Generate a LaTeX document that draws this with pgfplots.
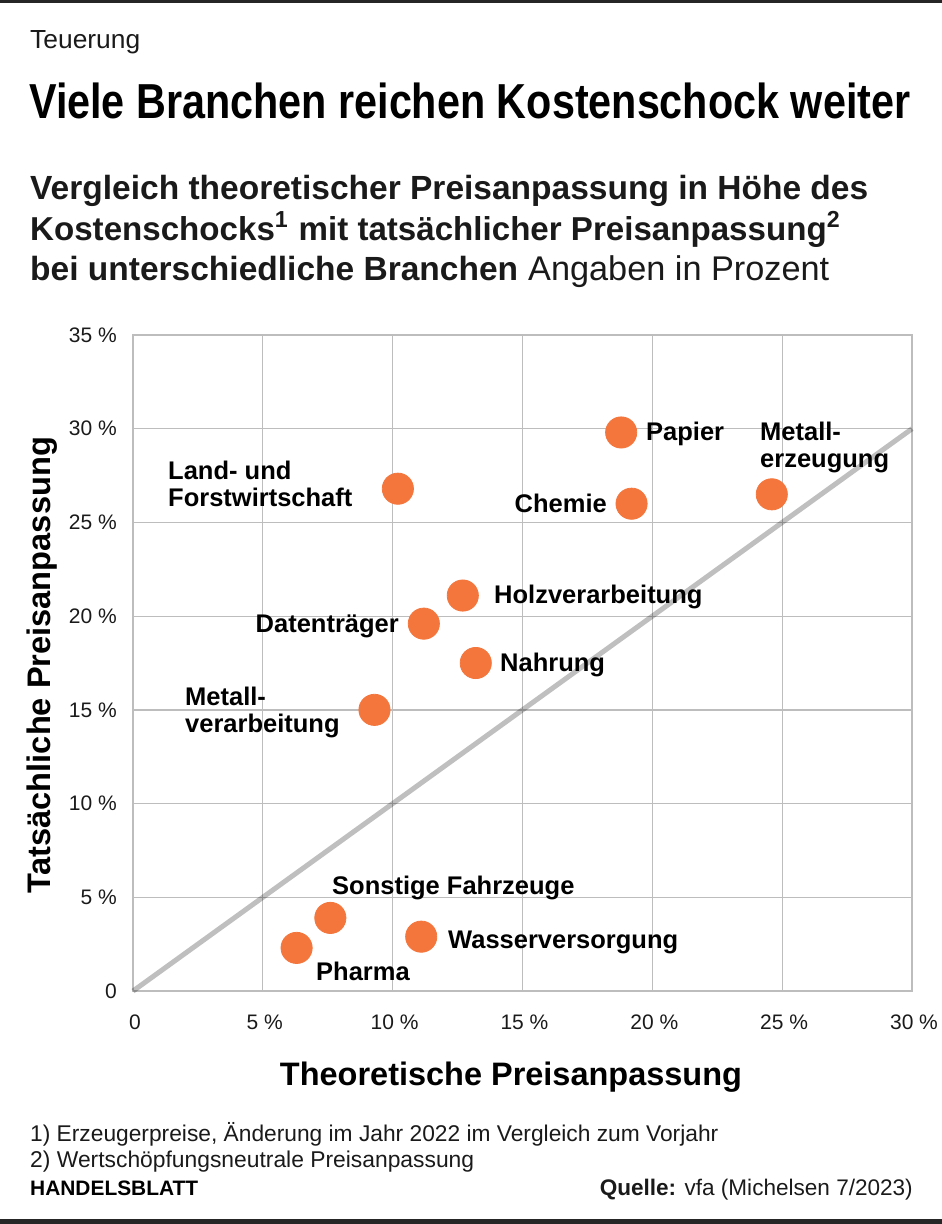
\documentclass[border=0pt]{standalone}
\usepackage{fontspec}
\setmainfont{Liberation Sans}
\usepackage{graphicx}
\usepackage{pgfplots}
\pgfplotsset{compat=1.18}
\definecolor{dotorange}{HTML}{F4763C}
\definecolor{gridgray}{HTML}{BDBDBD}
\definecolor{txt}{HTML}{1A1A1A}
\begin{document}
\begin{tikzpicture}[x=1pt,y=1pt]
\useasboundingbox (0pt,0pt) rectangle (942pt,-1224pt);
\fill[black!85] (0,0) rectangle (942,-2.5);
\fill[black!85] (0,-1219) rectangle (942,-1224);
% headings
\node[anchor=base west, inner sep=0, text=txt] at (30,-48) {\resizebox{110pt}{18pt}{Teuerung}};
\node[anchor=base west, inner sep=0, text=black] at (29,-118) {\resizebox{881pt}{35.6pt}{\bfseries Viele Branchen reichen Kostenschock weiter}};
\node[anchor=base west, inner sep=0, text=txt] at (30,-199) {\resizebox{838pt}{!}{\bfseries Vergleich theoretischer Preisanpassung in Höhe des}};
\node[anchor=base west, inner sep=0, text=txt] at (30,-240) {\resizebox{811pt}{!}{\bfseries Kostenschocks\textsuperscript{1} mit tatsächlicher Preisanpassung\textsuperscript{2}}};
\node[anchor=base west, inner sep=0, text=txt] at (30,-280) {\resizebox{488pt}{!}{\bfseries bei unterschiedliche Branchen}};
\node[anchor=base west, inner sep=0, text=txt] at (528,-280) {\resizebox{301pt}{!}{Angaben in Prozent}};
\begin{axis}[
  at={(133pt,-991pt)}, anchor=south west,
  scale only axis, width=779pt, height=656pt,
  xmin=0, xmax=30, ymin=0, ymax=35,
  xtick={0,5,10,15,20,25,30},
  ytick={0,5,10,15,20,25,30,35},
  xticklabels={0,5 \%,10 \%,15 \%,20 \%,25 \%,30 \%},
  yticklabels={0,5 \%,10 \%,15 \%,20 \%,25 \%,30 \%,35 \%},
  major tick length=0pt,
  tick style={draw=none},
  grid=major,
  grid style={gridgray, line width=1.3pt},
  axis line style={gridgray, line width=1.3pt},
  xticklabel style={font=\fontsize{21}{24}\selectfont, text=txt, anchor=north, inner sep=0pt, yshift=-24pt, xshift=2pt},
  yticklabel style={font=\fontsize{21}{24}\selectfont, text=txt, anchor=east, inner sep=0pt, xshift=-16pt},
  clip=false,
]
\addplot[black, opacity=0.25, line width=5pt] coordinates {(0,0) (30,30)};
\addplot[only marks, color=dotorange, mark=*, mark size=15.6pt, mark options={draw=dotorange, fill=dotorange, line width=0.8pt}] coordinates {
  (18.8,29.8)
  (24.6,26.5)
  (19.2,26.0)
  (10.2,26.8)
  (12.7,21.1)
  (11.2,19.6)
  (13.2,17.5)
  (9.3,15.0)
  (7.6,3.9)
  (11.1,2.9)
  (6.3,2.3)
};
\end{axis}
% point labels
\begin{scope}[every node/.style={inner sep=0, text=black, font=\fontsize{25.5}{30}\selectfont\bfseries}]
\node[anchor=base west] at (646,-440) {Papier};
\node[anchor=base west] at (760,-440) {Metall-};
\node[anchor=base west] at (760,-467) {erzeugung};
\node[anchor=base east] at (607,-512) {Chemie};
\node[anchor=base west] at (168,-479) {Land- und};
\node[anchor=base west] at (168,-506) {Forstwirtschaft};
\node[anchor=base west] at (494,-603) {Holzverarbeitung};
\node[anchor=base east] at (399,-632) {Datenträger};
\node[anchor=base west] at (500,-671) {Nahrung};
\node[anchor=base west] at (185,-705) {Metall-};
\node[anchor=base west] at (185,-732) {verarbeitung};
\node[anchor=base west] at (332,-894) {Sonstige Fahrzeuge};
\node[anchor=base west] at (448,-948) {Wasserversorgung};
\node[anchor=base west] at (316,-980) {Pharma};
\end{scope}
% axis titles
\node[rotate=90, anchor=base, inner sep=0, text=black] at (50,-665) {\resizebox{456pt}{!}{\bfseries Tatsächliche Preisanpassung}};
\node[anchor=base, inner sep=0, text=black] at (511,-1085) {\resizebox{462pt}{!}{\bfseries Theoretische Preisanpassung}};
% footer
\node[anchor=base west, inner sep=0, text=txt] at (30,-1141) {\resizebox{688pt}{!}{1) Erzeugerpreise, Änderung im Jahr 2022 im Vergleich zum Vorjahr}};
\node[anchor=base west, inner sep=0, text=txt] at (30,-1167) {\resizebox{444pt}{!}{2) Wertschöpfungsneutrale Preisanpassung}};
\node[anchor=base west, inner sep=0, text=black] at (30,-1195) {\resizebox{168pt}{!}{\bfseries HANDELSBLATT}};
\node[anchor=base east, inner sep=0, text=txt] at (913,-1195) {\resizebox{313pt}{!}{\textbf{Quelle:} vfa (Michelsen 7/2023)}};
\end{tikzpicture}
\end{document}
